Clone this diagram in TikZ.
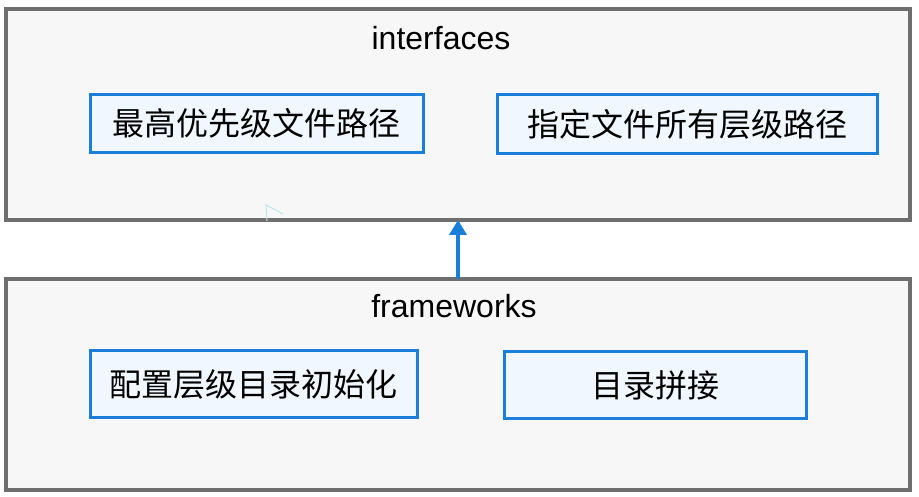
\documentclass[tikz,border=0pt]{standalone}
\usepackage{fontspec}
\setmainfont{Liberation Sans}
\newfontfamily\cjk{Noto Sans CJK SC}
\usetikzlibrary{arrows.meta}
\definecolor{grayline}{HTML}{6E6E6E}
\definecolor{grayfill}{HTML}{F7F7F7}
\definecolor{blueline}{HTML}{1A7FD9}
\definecolor{bluefill}{HTML}{F0F7FE}
\definecolor{faint}{HTML}{BFE5EA}
\tikzset{
  layer/.style={draw=grayline, fill=grayfill, line width=4pt, rectangle, outer sep=0pt, inner sep=0pt, minimum width=904pt, minimum height=211pt},
  modbox/.style={draw=blueline, fill=bluefill, line width=3pt, rectangle, outer sep=0pt, inner sep=0pt, font=\cjk\fontsize{32}{38}\selectfont},
  title/.style={font=\fontsize{32}{38}\selectfont, inner sep=0pt},
  uparrow/.style={draw=blueline, line width=4pt, -{Triangle[length=15pt,width=17pt]}}
}
\begin{document}
\begin{tikzpicture}[x=1pt,y=-1pt]
\useasboundingbox (0,0) rectangle (919,497);
\node[layer] (ifc) at (458,114.5) {};
\node[layer] (fw) at (458,384.5) {};
\node[title] (ifct) at (441,38) {interfaces};
\node[title] (fwt) at (454,306) {frameworks};
\node[modbox, minimum width=332.5pt, minimum height=58pt] (a) at (256.75,123.5) {最高优先级文件路径};
\node[modbox, minimum width=380pt, minimum height=59pt] (b) at (687,124) {指定文件所有层级路径};
\node[modbox, minimum width=327pt, minimum height=67pt] (c) at (253.75,384) {配置层级目录初始化};
\node[modbox, minimum width=301.5pt, minimum height=67pt] (d) at (655.25,385) {目录拼接};
\draw[uparrow] (fw.north) -- (ifc.south);
\coordinate (m0) at (266,205);
\coordinate (m1) at (267,221);
\coordinate (m2) at (283,214);
\draw[faint, line width=1pt] (m1) -- (m0) -- (m2);
\end{tikzpicture}
\end{document}
